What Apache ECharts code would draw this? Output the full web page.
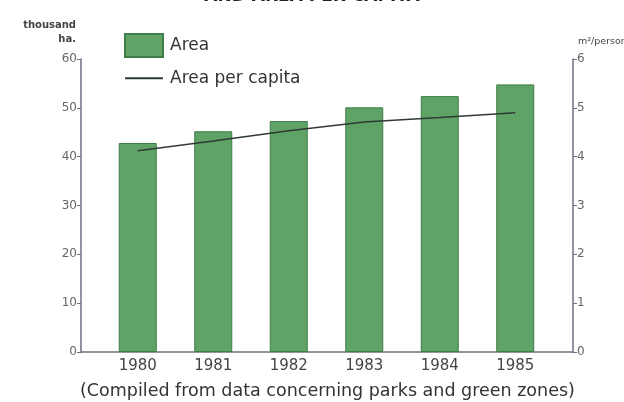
<!DOCTYPE html>
<html>
<head>
<meta charset="utf-8">
<script src="https://cdn.jsdelivr.net/npm/echarts@6/dist/echarts.min.js"></script>
<style>
  html, body { margin: 0; padding: 0; background: #fff; }
  #chart { width: 624px; height: 402px; }
</style>
</head>
<body>
<div id="chart"></div>
<script>
  // 数据
  var years = ['1980', '1981', '1982', '1983', '1984', '1985'];
  var areaValues = [42.8, 45.2, 47.3, 50.1, 52.4, 54.8];
  var perCapitaValues = [4.12, 4.32, 4.53, 4.71, 4.80, 4.90];
  var leftTicks = [0, 10, 20, 30, 40, 50, 60];
  var rightTicks = [0, 1, 2, 3, 4, 5, 6];

  var font = '"DejaVu Sans", "Noto Sans", sans-serif';
  var axisColor = '#6b7180';

  var myChart = echarts.init(document.getElementById('chart'));

  var option = {
    backgroundColor: '#fff',
    textStyle: { fontFamily: font },
    title: {
      text: 'AND AREA PER CAPITA',
      left: 'center',
      top: -17,
      textStyle: { fontSize: 17, fontWeight: 'bold', color: '#222', fontFamily: font }
    },
    legend: {
      orient: 'vertical',
      left: 119,
      top: 28,
      itemWidth: 38,
      itemHeight: 23,
      itemGap: 11,
      textStyle: { fontSize: 17, color: '#333', fontFamily: font, padding: [0, 0, 0, 2] },
      data: [
        { name: 'Area', icon: 'rect' },
        { name: 'Area per capita', itemStyle: { opacity: 0 } }
      ]
    },
    grid: [
      // 外框坐标轴
      { left: 81, right: 51, top: 59, bottom: 50 },
      // 柱子区域
      { left: 100, right: 71, top: 59, bottom: 50 }
    ],
    xAxis: [{
      gridIndex: 0,
      type: 'category',
      data: [''],
      axisLine: { lineStyle: { color: axisColor, width: 1.5 } },
      axisTick: { show: false },
      axisLabel: { show: false }
    }, {
      gridIndex: 1,
      type: 'category',
      data: years,
      axisLine: { show: false },
      axisTick: { show: false },
      axisLabel: { color: '#444', fontSize: 15, margin: 7, fontFamily: font }
    }],
    yAxis: [{
      gridIndex: 0,
      type: 'value',
      min: leftTicks[0],
      max: leftTicks[leftTicks.length - 1],
      interval: 10,
      position: 'left',
      axisLine: { show: true, lineStyle: { color: axisColor, width: 1.5 } },
      axisTick: { show: true, length: 4, lineStyle: { color: axisColor } },
      axisLabel: { color: '#666', fontSize: 12, margin: 4, fontFamily: font },
      splitLine: { show: false }
    }, {
      gridIndex: 0,
      type: 'value',
      min: rightTicks[0],
      max: rightTicks[rightTicks.length - 1],
      interval: 1,
      position: 'right',
      axisLine: { show: true, lineStyle: { color: axisColor, width: 1.5 } },
      axisTick: { show: true, length: 4, lineStyle: { color: axisColor } },
      axisLabel: { color: '#666', fontSize: 12, margin: 4, fontFamily: font },
      splitLine: { show: false }
    }, {
      gridIndex: 1,
      type: 'value',
      min: leftTicks[0],
      max: leftTicks[leftTicks.length - 1],
      show: false
    }, {
      gridIndex: 1,
      type: 'value',
      min: rightTicks[0],
      max: rightTicks[rightTicks.length - 1],
      show: false
    }],
    graphic: [{
      type: 'text',
      x: 76,
      y: 18,
      style: {
        text: 'thousand\nha.',
        align: 'right',
        fill: '#444',
        font: 'bold 10px ' + font,
        lineHeight: 14
      }
    }, {
      type: 'text',
      x: 578,
      y: 37,
      style: {
        text: 'm²/person',
        fill: '#444',
        font: '9.5px ' + font
      }
    }, {
      type: 'text',
      left: 80,
      top: 382,
      style: {
        text: '(Compiled from data concerning parks and green zones)',
        fill: '#333',
        font: '17.5px ' + font
      }
    }],
    series: [{
      name: 'Area',
      type: 'bar',
      xAxisIndex: 1,
      yAxisIndex: 2,
      barWidth: 38,
      itemStyle: {
        color: '#5fa366',
        borderColor: '#3f7d47',
        borderWidth: 1
      },
      data: areaValues
    }, {
      name: 'Area per capita',
      type: 'line',
      xAxisIndex: 1,
      yAxisIndex: 3,
      symbol: 'none',
      z: 5,
      lineStyle: { color: '#2f3a35', width: 1.5 },
      itemStyle: { color: '#2f3a35' },
      data: perCapitaValues
    }]
  };

  myChart.setOption(option);
  window.addEventListener('resize', function() {
    myChart.resize();
  });
</script>
</body>
</html>
